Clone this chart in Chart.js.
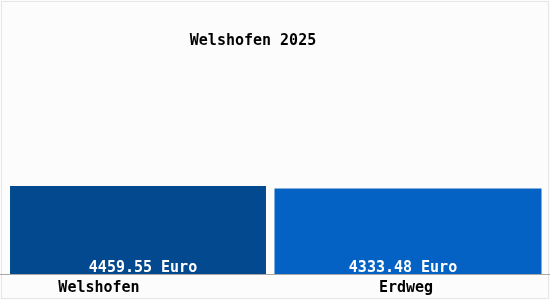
<!DOCTYPE html>
<html>
<head>
<meta charset="utf-8">
<script src="https://cdn.jsdelivr.net/npm/chart.js@4.4.1/dist/chart.umd.min.js"></script>
<style>
  html, body { margin: 0; padding: 0; background: #ffffff; }
  canvas { display: block; }
</style>
</head>
<body>
<canvas id="chart" width="550" height="300"></canvas>
<script>
const title = 'Welshofen 2025';
const categories = ['Welshofen', 'Erdweg'];
const values = [4459.55, 4333.48];
const valueLabels = ['4459.55 Euro', '4333.48 Euro'];
const barColors = ['#02498f', '#0462c4'];

(() => {
    const font = 'bold 15px "DejaVu Sans Mono", monospace';

    // one dataset per bar so each can keep its own width
    const widths = [0.948, 0.989];
    const datasets = values.map((v, i) => ({
        data: categories.map((c, j) => (j === i ? v : null)),
        backgroundColor: barColors[i],
        barPercentage: widths[i],
        categoryPercentage: 1,
        skipNull: true
    }));

    const decor = {
        id: 'decor',
        beforeDraw(chart) {
            const c = chart.ctx;
            c.save();
            c.fillStyle = '#fcfcfc';
            c.fillRect(0, 0, chart.width, chart.height);
            c.strokeStyle = '#e6e6e6';
            c.lineWidth = 1;
            c.strokeRect(1.5, 1.5, chart.width - 3, chart.height - 3);
            c.restore();
        },
        afterDraw(chart) {
            const c = chart.ctx;
            const x = chart.scales.x;
            const bottom = chart.chartArea.bottom;
            c.save();
            // axis line across the whole width
            c.strokeStyle = '#a8a8a8';
            c.lineWidth = 1;
            c.beginPath();
            c.moveTo(0, bottom + 0.5);
            c.lineTo(chart.width, bottom + 0.5);
            c.stroke();

            c.font = font;
            c.textAlign = 'center';
            c.textBaseline = 'alphabetic';

            c.fillStyle = '#000000';
            c.fillText(title, 253, 45);

            const labelShift = [-39, -2];
            categories.forEach((cat, i) => {
                c.fillText(cat, x.getPixelForTick(i) + labelShift[i], 292);
            });

            const valueShift = [5, -5];
            c.fillStyle = '#ffffff';
            datasets.forEach((ds, i) => {
                const bar = chart.getDatasetMeta(i).data[i];
                c.fillText(valueLabels[i], bar.x + valueShift[i], 272);
            });
            c.restore();
        }
    };

    new Chart(document.getElementById('chart'), {
        type: 'bar',
        data: { labels: categories, datasets: datasets },
        options: {
            responsive: false,
            animation: false,
            layout: { padding: { left: 3, right: 7, top: 20, bottom: 26 } },
            plugins: {
                legend: { display: false },
                title: { display: false },
                tooltip: { enabled: false }
            },
            scales: {
                x: {
                    display: false,
                    stacked: true
                },
                y: {
                    display: false,
                    min: 0,
                    max: 12870
                }
            }
        },
        plugins: [decor]
    });
})();
</script>
</body>
</html>
